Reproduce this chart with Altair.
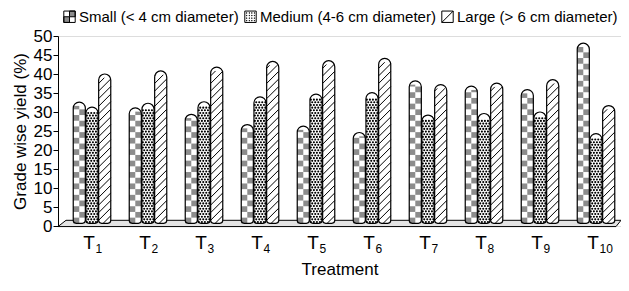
import altair as alt
import pandas as pd

# ---------------- data ----------------
TREATMENT_NUMS = ["1", "2", "3", "4", "5", "6", "7", "8", "9", "10"]   # shown as T with subscript
SERIES = ["Small (< 4 cm diameter)", "Medium (4-6 cm diameter)", "Large (> 6 cm diameter)"]
SMALL = [32.6, 31.1, 29.4, 26.7, 26.3, 24.6, 38.2, 36.8, 35.9, 48.1]
MEDIUM = [31.3, 32.3, 32.7, 34.0, 34.7, 35.1, 29.2, 29.6, 30.0, 24.3]
LARGE = [40.0, 40.8, 41.8, 43.3, 43.5, 44.1, 37.2, 37.6, 38.5, 31.7]

rows = []
for si, vals in enumerate([SMALL, MEDIUM, LARGE]):
    for i, v in enumerate(vals):
        rows.append({"idx": i + 1, "si": si, "series": SERIES[si], "value": v})
df = pd.DataFrame(rows)
legend_df = pd.DataFrame({"series": SERIES})
tick_df = pd.DataFrame({"idx": list(range(1, len(TREATMENT_NUMS) + 1)), "num": TREATMENT_NUMS})

# ---------------- layout constants ----------------
FONT = "Liberation Sans, Arial, sans-serif"
W, H = 563, 190
PX_PER_GROUP = 56.0
X0 = 1 - 34 / PX_PER_GROUP
X1 = X0 + W / PX_PER_GROUP
PXY = H / 50.0
STEP = 0.227        # offset between bars inside a group (x units)
HW = 0.108          # half bar width (x units)
YB = 0.7            # bar base (sits on the floor)
CAP = 1.0           # pattern stops a bit below the rounded top
CELL = 1.5          # checker cell height
DSP = 0.7           # dot row spacing
SP = 2.0            # hatch spacing
HH = (2 * HW * PX_PER_GROUP) / PXY  # 45 degree rise across a bar
R = 6

xs = alt.Scale(domain=[X0, X1], nice=False, zero=False)
ys = alt.Scale(domain=[0, 50], nice=False)

x_axis = alt.Axis(
    values=list(range(1, 11)), labels=False,
    domain=False, ticks=False, grid=False,
    title="Treatment", titleFont=FONT,
    titleFontSize=17, titleFontWeight="normal", titleColor="black", titlePadding=35,
)
y_axis = alt.Axis(
    values=list(range(0, 55, 5)), grid=False, domainColor="black", tickColor="black",
    tickSize=5, labelFont=FONT, labelFontSize=17, labelColor="black", labelPadding=1,
    title="Grade wise yield (%)", titleFont=FONT, titleFontSize=17,
    titleFontWeight="normal", titleColor="black", titlePadding=4,
)

base = alt.Chart(df).transform_calculate(
    xc=f"datum.idx + (datum.si - 1) * {STEP}",
    xl=f"datum.xc - {HW}",
    xr=f"datum.xc + {HW}",
    yb=f"{YB}",
)

# floor (decorative parallelogram along the x axis)
floor_df = pd.DataFrame({
    "fx": [X0, X0 + 8 / PX_PER_GROUP, X1 - 5 / PX_PER_GROUP, X1],
    "ftop": [-0.15, 1.5, 1.5, 1.5],
    "fbot": [-0.15, -0.15, -0.15, 1.5],
})
floor = alt.Chart(floor_df).mark_area(
    fill="#e3e3e3", stroke="black", strokeWidth=1, interpolate="linear"
).encode(
    x=alt.X("fx:Q", scale=xs, axis=x_axis),
    y=alt.Y("ftop:Q", scale=ys, axis=y_axis),
    y2="fbot:Q",
)

bars_bg = base.mark_rect(
    fill="white", cornerRadiusTopLeft=R, cornerRadiusTopRight=R,
    cornerRadiusBottomLeft=3, cornerRadiusBottomRight=3,
).encode(
    x=alt.X("xl:Q", scale=xs, axis=x_axis),
    x2="xr:Q",
    y=alt.Y("value:Q", scale=ys, axis=y_axis),
    y2="yb:Q",
)

checker = base.transform_filter("datum.si == 0").transform_calculate(
    k=f"sequence(0, ceil((datum.value - {CAP} - {YB}) / {CELL}))"
).transform_flatten(["k"]).transform_calculate(
    y0=f"{YB} + datum.k * {CELL}",
    y1=f"min({YB} + (datum.k + 1) * {CELL}, datum.value - {CAP})",
    cx0="datum.xl + (datum.k % 2) * (datum.xr - datum.xl) / 2",
    cx1="datum.cx0 + (datum.xr - datum.xl) / 2",
).transform_filter("datum.y1 > datum.y0").mark_rect(fill="#8c8c8c").encode(
    x=alt.X("cx0:Q", scale=xs, axis=x_axis), x2="cx1:Q",
    y=alt.Y("y0:Q", scale=ys, axis=y_axis), y2="y1:Q",
)

dots = base.transform_filter("datum.si == 1").transform_calculate(
    k=f"sequence(0, floor((datum.value - {CAP} - {YB}) / {DSP}))"
).transform_flatten(["k"]).transform_calculate(
    c="sequence(0, 4)"
).transform_flatten(["c"]).transform_calculate(
    dx="datum.xl + (datum.xr - datum.xl) * (datum.c + 0.3 + 0.45 * (datum.k % 2)) / 4",
    dy=f"{YB} + {DSP} * (datum.k + 0.5)",
).mark_circle(size=4.5, color="black", opacity=1).encode(
    x=alt.X("dx:Q", scale=xs, axis=x_axis),
    y=alt.Y("dy:Q", scale=ys, axis=y_axis),
)

hatch = base.transform_filter("datum.si == 2").transform_calculate(
    k=f"sequence(0, ceil((datum.value - {YB} + {HH}) / {SP}) + 1)"
).transform_flatten(["k"]).transform_calculate(
    ya=f"{YB} + datum.k * {SP} - {HH}",
    yz=f"datum.ya + {HH}",
    top=f"datum.value - {CAP}",
    s=f"{HH} / (datum.xr - datum.xl)",
    lx=f"datum.ya < {YB} ? datum.xl + ({YB} - datum.ya) / datum.s : datum.xl",
    ly=f"max(datum.ya, {YB})",
    rx="datum.yz > datum.top ? datum.xr - (datum.yz - datum.top) / datum.s : datum.xr",
    ry="min(datum.yz, datum.top)",
).transform_filter("datum.rx > datum.lx && datum.ry > datum.ly").mark_rule(
    color="black", strokeWidth=1
).encode(
    x=alt.X("lx:Q", scale=xs, axis=x_axis), x2="rx:Q",
    y=alt.Y("ly:Q", scale=ys, axis=y_axis), y2="ry:Q",
)

bars_outline = base.mark_rect(
    fill="white", fillOpacity=0, stroke="black", strokeWidth=1.2,
    cornerRadiusTopLeft=R, cornerRadiusTopRight=R,
    cornerRadiusBottomLeft=3, cornerRadiusBottomRight=3,
).encode(
    x=alt.X("xl:Q", scale=xs, axis=x_axis), x2="xr:Q",
    y=alt.Y("value:Q", scale=ys, axis=y_axis), y2="yb:Q",
)

# treatment labels: "T" with a subscript number
t_text = alt.Chart(tick_df).mark_text(
    font=FONT, fontSize=19, color="black", align="center", baseline="alphabetic", dx=-3
).encode(
    x=alt.X("idx:Q", scale=xs, axis=x_axis),
    y=alt.value(H + 23),
    text=alt.value("T"),
)
subs = alt.Chart(tick_df).mark_text(
    font=FONT, fontSize=12, color="black", align="left", baseline="alphabetic", dx=3.5
).encode(
    x=alt.X("idx:Q", scale=xs, axis=x_axis),
    y=alt.value(H + 27),
    text="num:N",
)

# legend symbols: outline drawn as open lines (no area), pattern parts as closed shapes
outline = "M-1,-1H1 M1,-1V1 M1,1H-1 M-1,1V-1 "
checker_path = outline + "M0,-1H1V0H0Z M-1,0H0V1H-1Z"
dot_parts = []
for gy in [-0.7, -0.25, 0.2, 0.65]:
    for gx in [-0.7, -0.25, 0.2, 0.65]:
        dot_parts.append(f"M{gx},{gy}h0.08v0.08h-0.08Z")
dots_path = outline + " ".join(dot_parts)
hatch_path = outline + "M-1,1L1,-1"

legend = alt.Legend(
    orient="none", legendX=4, legendY=-27, direction="horizontal", title=None,
    symbolSize=130, symbolStrokeWidth=1, symbolOpacity=1,
    labelFont=FONT, labelFontSize=15, labelColor="black", labelLimit=400,
    columnPadding=3, labelOffset=2,
)
legend_layer = alt.Chart(legend_df).mark_point(filled=True, opacity=0, size=1).encode(
    fill=alt.Fill("series:N", scale=alt.Scale(domain=SERIES, range=["#8c8c8c", "#000000", "#ffffff"]), legend=legend),
    stroke=alt.Stroke("series:N", scale=alt.Scale(domain=SERIES, range=["#000000", "#000000", "#000000"]), legend=legend),
    shape=alt.Shape("series:N", scale=alt.Scale(domain=SERIES, range=[checker_path, dots_path, hatch_path]), legend=legend),
)

chart = alt.layer(
    floor, bars_bg, checker, dots, hatch, bars_outline, t_text, subs, legend_layer
).properties(
    width=W, height=H,
    autosize=alt.AutoSizeParams(type="none"),
    padding={"left": 50, "top": 28, "right": 0, "bottom": 57},
).configure_view(stroke=None).configure(background="white")

chart.save("out.html", embed_options={"renderer": "svg", "actions": False})
